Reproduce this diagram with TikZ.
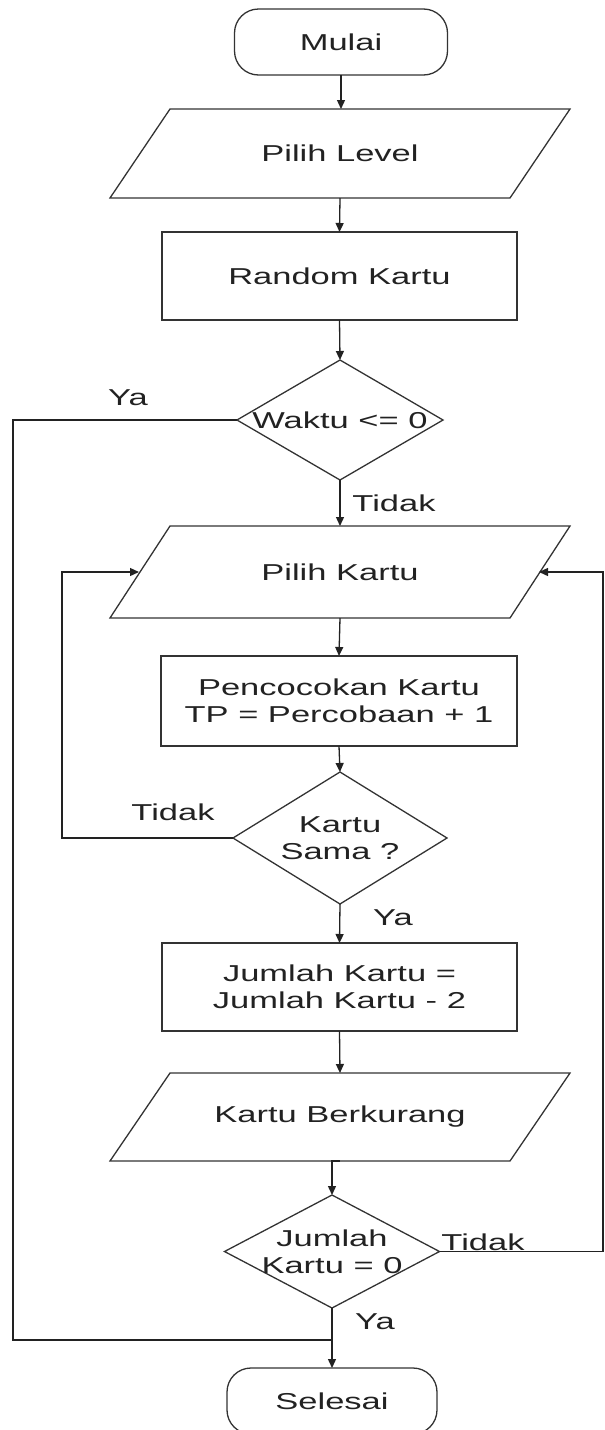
\documentclass[tikz,border=0pt]{standalone}
\usepackage{fontspec}
\setmainfont[FakeStretch=1.5]{Liberation Sans}
\usetikzlibrary{shapes.geometric,arrows.meta}
\definecolor{ln}{HTML}{333333}
\definecolor{tx}{HTML}{222222}
\begin{document}
\begin{tikzpicture}[x=1pt,y=-1pt,
  every node/.style={inner sep=0pt,outer sep=0pt,text=tx,font=\fontsize{23}{27}\selectfont},
  shp/.style={draw=ln,line width=1.3pt},
  term/.style={shp,rectangle,rounded corners=24pt},
  proc/.style={shp,rectangle},
  iobox/.style={rectangle,draw=none},
  iopath/.style={draw=ln,line width=1.3pt,line join=miter},
  dec/.style={shp,diamond},
  txt/.style={align=center},
  arr/.style={draw=tx,line width=1.3pt,-{Triangle[length=9pt,width=8pt]}},
  ln/.style={draw=tx,line width=1.3pt}]
\useasboundingbox (0,0) rectangle (605,1430);

\node[term,minimum width=213,minimum height=66] (mulai) at (341,42) {Mulai};
\node[iobox,minimum width=460,minimum height=89] (pl) at (340,153.5) {Pilih Level};
\node[proc,minimum width=355,minimum height=88] (rk) at (339.5,276) {Random Kartu};
\node[dec,minimum width=206,minimum height=120] (waktu) at (340,420) {};
\node[txt] (waktut) at (waktu) {Waktu <= 0};
\node[iobox,minimum width=460,minimum height=92] (pk) at (340,572) {Pilih Kartu};
\node[proc,minimum width=356,minimum height=90,align=center] (pc) at (339,701) {Pencocokan Kartu\\TP = Percobaan + 1};
\node[dec,minimum width=214,minimum height=132] (sama) at (340,838) {};
\node[txt] (samat) at (sama) {Kartu\\Sama ?};
\node[proc,minimum width=355,minimum height=88,align=center] (jr) at (339.5,987) {Jumlah Kartu =\\Jumlah Kartu - 2};
\node[iobox,minimum width=460,minimum height=88] (kb) at (340,1117) {Kartu Berkurang};
\node[dec,minimum width=215,minimum height=113] (jd) at (332,1251.5) {};
\node[txt] (jdt) at (jd) {Jumlah\\Kartu = 0};
\node[term,minimum width=210,minimum height=66] (selesai) at (332,1401) {Selesai};

\foreach \n in {pl,pk,kb}{
  \draw[iopath] ([xshift=60pt]\n.north west) -- (\n.north east) -- ([xshift=-60pt]\n.south east) -- (\n.south west) -- cycle;
}

\coordinate (c1) at (13,1340);
\coordinate (lc) at (62,572);
\coordinate (rc) at (603,572);
\coordinate (pkl) at ([xshift=29pt]pk.west);
\coordinate (pkr) at ([xshift=-31pt]pk.east);

\draw[arr] (mulai.south) -- (mulai.south |- pl.north);
\draw[arr] (pl.south) -- (rk.north);
\draw[arr] (rk.south) -- (waktu.north);
\draw[arr] (waktu.south) -- (pk.north);
\draw[arr] (pk.south) -- (pc.north);
\draw[arr] (pc.south) -- (sama.north);
\draw[arr] (sama.south) -- (jr.north);
\draw[arr] (jr.south) -- (kb.north);
\draw[arr] (kb.south) -| (jd.north);
\draw[arr] (jd.south) -- (selesai.north);
\draw[ln] (waktu.west) -| (c1) -- (c1 -| jd.south);
\draw[arr] (sama.west) -| (lc) -- (pkl);
\draw[arr] (jd.east) -| (rc) -- (pkr);

\node (ya1) at (128,398) {Ya};
\node (td1) at (394,503) {Tidak};
\node (td2) at (173,812) {Tidak};
\node (ya2) at (393,918) {Ya};
\node (td3) at (483,1242) {Tidak};
\node (ya3) at (375,1322) {Ya};
\end{tikzpicture}
\end{document}
